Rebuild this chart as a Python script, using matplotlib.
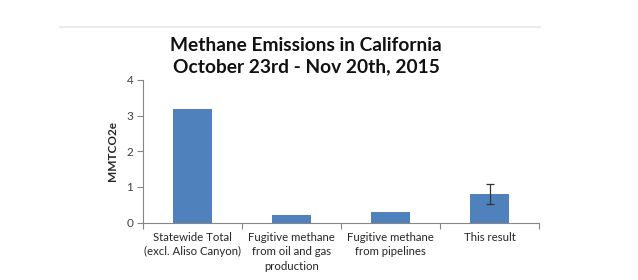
import matplotlib
matplotlib.use("Agg")
import matplotlib.pyplot as plt
from matplotlib.lines import Line2D

categories = ["Statewide Total\n(excl. Aliso Canyon)",
              "Fugitive methane\nfrom oil and gas\nproduction",
              "Fugitive methane\nfrom pipelines",
              "This result"]
values = [3.2, 0.2, 0.3, 0.8]
err_low = [0, 0, 0, 0.29]
err_high = [0, 0, 0, 0.28]
yticks = [0, 1, 2, 3, 4]
title = "Methane Emissions in California\nOctober 23rd - Nov 20th, 2015"
ylabel = "MMTCO2e"

plt.rcParams['font.family'] = ['Lato', 'DejaVu Sans']

fig = plt.figure(figsize=(6.38, 2.8), dpi=100)
ax = fig.add_axes([143/638, 1-222.5/280, (539-143)/638, (222.5-80)/280])

x = list(range(len(categories)))
ax.bar(x, values, width=0.4, color="#4F81BD", zorder=2)
err_x = [i for i in x if err_low[i] > 0 or err_high[i] > 0]
ax.errorbar(err_x, [values[i] for i in err_x],
            yerr=[[err_low[i] for i in err_x], [err_high[i] for i in err_x]],
            fmt='none', ecolor='#333333', elinewidth=0.9, capsize=3, capthick=0.9, zorder=3)

ax.set_xlim(-0.5, len(categories) - 0.5)
ax.set_ylim(0, 4)
ax.set_yticks(yticks)
ax.set_yticklabels([str(t) for t in yticks], fontsize=8.5, color="#404040")
ax.set_xticks([i - 0.5 for i in range(len(categories) + 1)])
ax.set_xticklabels([])
ax.set_xticks(x, minor=True)
ax.set_xticklabels(categories, minor=True, fontsize=8.2, color="#262626", linespacing=1.35)
ax.tick_params(axis='x', which='minor', length=0, pad=7)
ax.tick_params(axis='x', which='major', length=4, color="#868686", width=0.8)
ax.tick_params(axis='y', length=4, color="#868686", width=0.8, pad=3)

for s in ['top', 'right']:
    ax.spines[s].set_visible(False)
for s in ['left', 'bottom']:
    ax.spines[s].set_color("#868686")
    ax.spines[s].set_linewidth(0.8)

ax.set_ylabel(ylabel, fontsize=8.5, fontweight='bold', color="#262626", labelpad=6)

fig.text(306/638, 1-56.5/280, title, ha='center', va='center', fontsize=13.8,
         fontweight='bold', color="#111111", linespacing=1.3)

fig.add_artist(Line2D([60/638, 540/638], [1-26.5/280, 1-26.5/280],
                      color="#e6e6e6", linewidth=1.2, transform=fig.transFigure))

fig.savefig("out.png", dpi=100, facecolor="white")
